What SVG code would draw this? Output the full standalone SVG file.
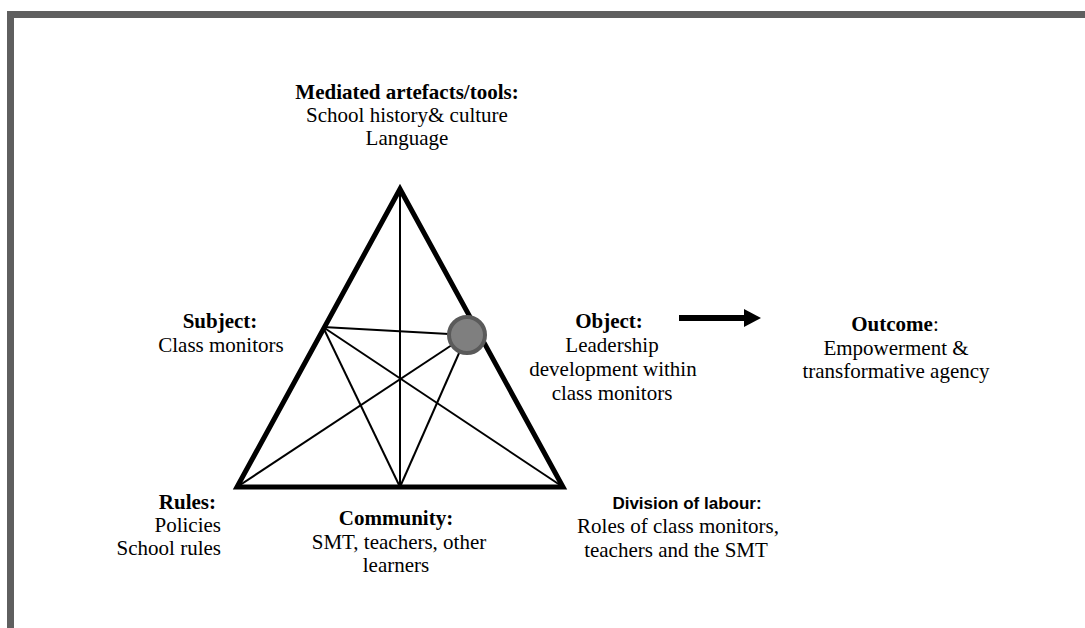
<svg xmlns="http://www.w3.org/2000/svg" width="1085" height="628" viewBox="0 0 1085 628">
  <style>
    .lbl { font-family: "Liberation Serif", "Times New Roman", serif; font-size: 21px; fill: #000; }
    .b { font-weight: bold; }
    .sans { font-family: "Liberation Sans", Arial, sans-serif; font-size: 17px; font-weight: bold; fill: #000; }
    .mid { text-anchor: middle; }
    .end { text-anchor: end; }
    .frame { fill: #5f5f5f; }
    .edge { fill: none; stroke: #000; stroke-width: 5; stroke-linejoin: miter; }
    .link { stroke: #000; stroke-width: 2; fill: none; }
  </style>

  <!-- page frame (top and left rules) -->
  <rect x="0" y="0" width="1085" height="628" fill="#fff"/>
  <rect class="frame" x="7" y="11" width="1078" height="7"/>
  <rect class="frame" x="7" y="11" width="7" height="617"/>

  <!-- activity triangle and internal connectors -->
  <g id="connectors">
    <line class="link" x1="400" y1="189" x2="400" y2="487"/>
    <line class="link" x1="323" y1="327" x2="467" y2="335"/>
    <line class="link" x1="323" y1="327" x2="563" y2="487"/>
    <line class="link" x1="323" y1="327" x2="400" y2="487"/>
    <line class="link" x1="467" y1="335" x2="237" y2="487"/>
    <line class="link" x1="467" y1="335" x2="400" y2="487"/>
    <polygon class="edge" points="400,189 237,487 563,487"/>
    <!-- object-to-outcome arrow -->
    <path d="M679,318 H746" stroke="#000" stroke-width="6" fill="none"/>
    <polygon points="744,309 761,318 744,327" fill="#000"/>
  </g>

  <g id="object-marker">
    <circle cx="467" cy="335" r="18" fill="#7f7f7f" stroke="#5a5a5a" stroke-width="4"/>
  </g>

  <g id="tools">
    <text class="lbl b mid" x="407" y="99">Mediated artefacts/tools:</text>
    <text class="lbl mid" x="407" y="122">School history&amp; culture</text>
    <text class="lbl mid" x="407" y="145">Language</text>
  </g>

  <g id="subject">
    <text class="lbl b mid" x="220" y="328">Subject:</text>
    <text class="lbl mid" x="221" y="352">Class monitors</text>
  </g>

  <g id="object">
    <text class="lbl b mid" x="609" y="328">Object:</text>
    <text class="lbl mid" x="612" y="352">Leadership</text>
    <text class="lbl mid" x="613" y="376">development within</text>
    <text class="lbl mid" x="612" y="400">class monitors</text>
  </g>

  <g id="outcome">
    <text class="lbl mid" x="895" y="331"><tspan class="b">Outcome</tspan>:</text>
    <text class="lbl mid" x="896" y="355">Empowerment &amp;</text>
    <text class="lbl mid" x="896" y="378">transformative agency</text>
  </g>

  <g id="rules">
    <text class="lbl b end" x="216" y="509">Rules:</text>
    <text class="lbl end" x="221" y="532">Policies</text>
    <text class="lbl end" x="221" y="555">School rules</text>
  </g>

  <g id="community">
    <text class="lbl b mid" x="396" y="525">Community:</text>
    <text class="lbl mid" x="399" y="549">SMT, teachers, other</text>
    <text class="lbl mid" x="396" y="572">learners</text>
  </g>

  <g id="division-of-labour">
    <text class="sans mid" x="687" y="509">Division of labour:</text>
    <text class="lbl mid" x="678" y="533">Roles of class monitors,</text>
    <text class="lbl mid" x="676" y="557">teachers and the SMT</text>
  </g>
</svg>
